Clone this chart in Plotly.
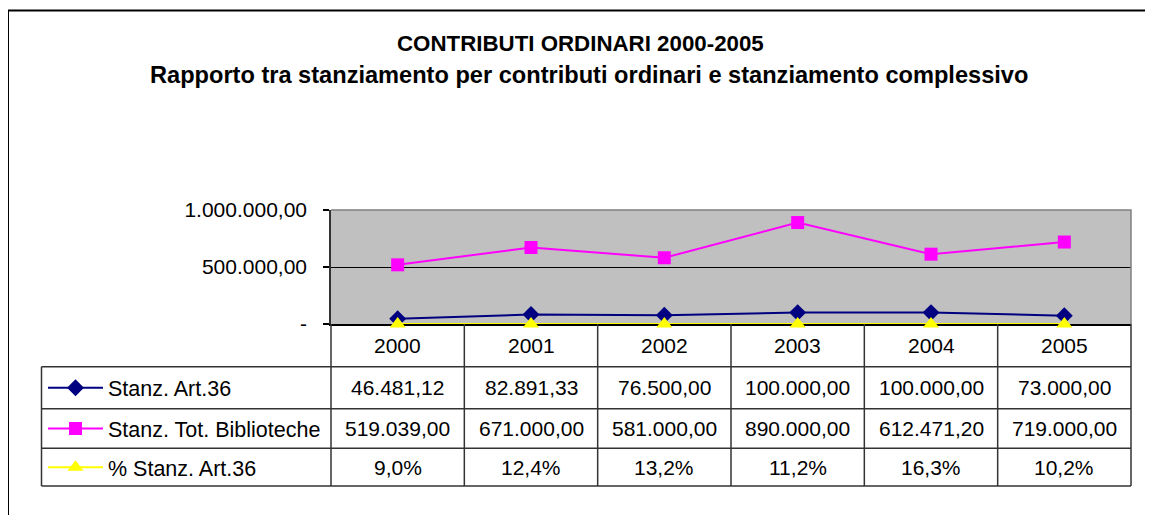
import plotly.graph_objects as go

# ---------------- data ----------------
years = ["2000", "2001", "2002", "2003", "2004", "2005"]
art36 = [46481.12, 82891.33, 76500.00, 100000.00, 100000.00, 73000.00]
tot_bib = [519039.00, 671000.00, 581000.00, 890000.00, 612471.20, 719000.00]
pct_art36 = [0.090, 0.124, 0.132, 0.112, 0.163, 0.102]
series_names = ["Stanz. Art.36", "Stanz. Tot. Biblioteche", "% Stanz. Art.36"]
y_tickvals = [0, 500000, 1000000]
title_line1 = "CONTRIBUTI ORDINARI 2000-2005"
title_line2 = "Rapporto tra stanziamento per contributi ordinari e stanziamento complessivo"


def fmt_num(v):
    s = f"{v:,.2f}"
    return s.replace(",", "X").replace(".", ",").replace("X", ".")


def fmt_pct(v):
    return f"{v * 100:.1f}%".replace(".", ",")


def fmt_tick(v):
    return "-" if v == 0 else fmt_num(v)


# ---------------- layout geometry (page pixels; body has 8px margin) ----------------
OFF = 8
W, H = 1153 - OFF, 515 - OFF
L, R, T, B = 331 - OFF, 1131 - OFF, 210 - OFF, 324 - OFF
FONT = "Liberation Sans, Arial, sans-serif"


def px(x):
    return (x - OFF - L) / (R - L)


def py(y):
    return (B - (y - OFF)) / (B - T)


header_c = 345
row_lines = [366.7, 408.7, 448.3, 486.0]
row_centers = [387.7, 428.5, 467.2]
table_left = 41.5

colors = ["#000080", "#FF00FF", "#FFFF00"]
symbols = ["diamond", "square", "triangle-up"]
msizes = [13, 13, 14]
clips = [True, True, False]
series = [art36, tot_bib, pct_art36]
legends = ["legend", "legend2", "legend3"]

fig = go.Figure()
for vals, name, col, sym, ms, lg, clip in zip(series, series_names, colors, symbols, msizes, legends, clips):
    fig.add_trace(go.Scatter(
        x=years, y=vals, name=name, mode="lines+markers",
        line=dict(color=col, width=2),
        marker=dict(symbol=sym, size=ms, color=col),
        legend=lg, cliponaxis=clip, hoverinfo="skip",
    ))

shapes = []
line_col = "#333333"
# table horizontal lines
for yl in row_lines:
    shapes.append(dict(type="line", xref="paper", yref="paper",
                       x0=px(table_left), x1=1, y0=py(yl), y1=py(yl),
                       line=dict(color=line_col, width=1.5)))
# table vertical lines
shapes.append(dict(type="line", xref="paper", yref="paper",
                   x0=px(table_left), x1=px(table_left), y0=py(row_lines[0]), y1=py(row_lines[-1]),
                   line=dict(color=line_col, width=1.5)))
shapes.append(dict(type="line", xref="paper", yref="paper",
                   x0=0, x1=0, y0=0, y1=py(row_lines[-1]),
                   line=dict(color=line_col, width=1.5)))
for i in range(len(years) - 1):
    shapes.append(dict(type="line", xref="x", yref="paper",
                       x0=i + 0.5, x1=i + 0.5, y0=0, y1=py(row_lines[-1]),
                       line=dict(color=line_col, width=1.5)))
shapes.append(dict(type="line", xref="paper", yref="paper",
                   x0=1, x1=1, y0=0, y1=py(row_lines[-1]),
                   line=dict(color=line_col, width=1.5)))
# plot-area border top/right (grey)
shapes.append(dict(type="path", xref="paper", yref="paper",
                   path="M 0,1 L 1,1 L 1,0", layer="above",
                   line=dict(color="#808080", width=1.5)))
# outer chart border
shapes.append(dict(type="path", xref="paper", yref="paper",
                   path=f"M {px(8)},{py(530)} L {px(8)},{py(10.5)} L {px(1170)},{py(10.5)}",
                   line=dict(color="#000000", width=2)))

annotations = []
annotations.append(dict(text=f"<b>{title_line1}</b>", xref="paper", yref="paper",
                        x=px(580), y=py(43), showarrow=False,
                        font=dict(family=FONT, size=22.3, color="black"),
                        xanchor="center", yanchor="middle"))
annotations.append(dict(text=f"<b>{title_line2}</b>", xref="paper", yref="paper",
                        x=px(588.5), y=py(75), showarrow=False,
                        font=dict(family=FONT, size=23.6, color="black"),
                        xanchor="center", yanchor="middle"))
for i, yr in enumerate(years):
    annotations.append(dict(text=yr, xref="x", yref="paper", x=i, y=py(header_c),
                            showarrow=False, font=dict(family=FONT, size=21, color="black"),
                            xanchor="center", yanchor="middle"))
    cells = [fmt_num(art36[i]), fmt_num(tot_bib[i]), fmt_pct(pct_art36[i])]
    for txt, yc in zip(cells, row_centers):
        annotations.append(dict(text=txt, xref="x", yref="paper", x=i, y=py(yc),
                                showarrow=False, font=dict(family=FONT, size=21, color="black"),
                                xanchor="center", yanchor="middle"))

legend_common = dict(xref="paper", yref="paper", x=px(43), xanchor="left", yanchor="middle",
                     bgcolor="rgba(0,0,0,0)", borderwidth=0, itemwidth=55,
                     font=dict(family=FONT, size=21.5, color="black"))
layout_legends = {}
for lg, yc in zip(legends, row_centers):
    layout_legends[lg] = dict(legend_common, y=py(yc))

fig.update_layout(
    width=W, height=H,
    margin=dict(l=L, r=W - R, t=T, b=H - B, pad=0),
    paper_bgcolor="white", plot_bgcolor="#C0C0C0",
    font=dict(family=FONT, size=21, color="black"),
    showlegend=True,
    shapes=shapes, annotations=annotations,
    xaxis=dict(type="category", range=[-0.5, len(years) - 0.5], showticklabels=False,
               showgrid=False, zeroline=False, showline=True, linecolor="black", linewidth=1.5,
               layer="below traces", ticks="", fixedrange=True),
    yaxis=dict(range=[0, 1000000], tickvals=y_tickvals, ticktext=[fmt_tick(v) for v in y_tickvals],
               ticks="outside", ticklen=6, tickcolor="black", tickwidth=1.5,
               showgrid=True, gridcolor="black", gridwidth=1, zeroline=False,
               showline=True, linecolor="#333333", linewidth=1.5,
               tickfont=dict(family=FONT, size=21, color="black"),
               ticklabelstandoff=12, fixedrange=True),
    **layout_legends,
)

fig.write_html("out.html", config={"displayModeBar": False})
